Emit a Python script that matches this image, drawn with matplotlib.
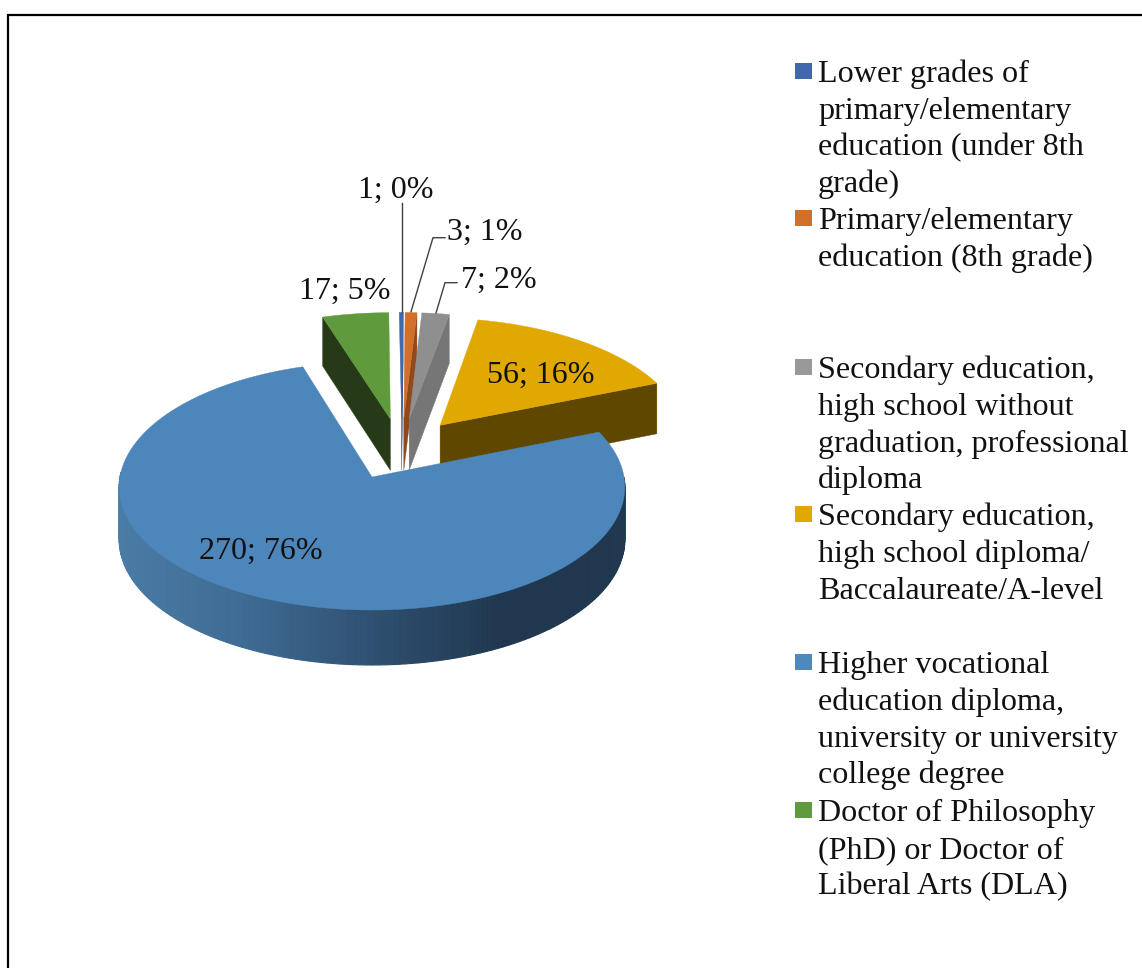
import numpy as np
import matplotlib
matplotlib.use("Agg")
import matplotlib.pyplot as plt
from matplotlib.colors import to_rgb
from matplotlib.patches import Polygon, Rectangle

plt.rcParams["font.family"] = ["Liberation Serif"]

values = [1, 3, 7, 56, 270, 17]
top_colors = ["#3F68AE", "#D2702A", "#8F8F8F", "#E0A800", "#4C86BB", "#5F9A3D"]
side_colors = ["#26406B", "#8F4A1C", "#767676", "#5F4700", "#223D58", "#263A17"]
legend_colors = ["#3F68AE", "#D2702A", "#999999", "#E3A800", "#4E88BC", "#5F9A3D"]
legend_lines = [
    ["Lower grades of", "primary/elementary", "education (under 8th", "grade)"],
    ["Primary/elementary", "education (8th grade)"],
    ["Secondary education,", "high school without", "graduation, professional", "diploma"],
    ["Secondary education,", "high school diploma/", "Baccalaureate/A-level"],
    ["Higher vocational", "education diploma,", "university or university", "college degree"],
    ["Doctor of Philosophy", "(PhD) or Doctor of", "Liberal Arts (DLA)"],
]
legend_y = [71, 218, 367, 514, 662, 810]

# label positions (centre, px), same order as values
label_pos = [(396, 190), (485, 232), (499, 280), (541, 375), (261, 551), (345, 291)]

# blue rim shading, left to right
rim_x = [119, 250, 372, 500, 625]
rim_c = ["#4A7CA6", "#3E6A92", "#2F5071", "#20384F", "#20384F"]

EXPLODE = 0.25
fig = plt.figure(figsize=(11.42, 9.68), dpi=100)
ax = fig.add_axes([0, 0, 1, 1])
ax.set_xlim(0, 1142)
ax.set_ylim(968, 0)
ax.axis("off")


def to_px(u, v):
    # pie plane -> picture, with a bit of perspective
    u, v = np.asarray(u, float), np.asarray(v, float)
    return 372 + 252 * u * (1 - 0.08 * v), 477 - 124 * v + 9 * v**2


def depth(v):
    return 52.5 - 2.5 * np.asarray(v, float)


def rim_color(x):
    rgb = np.array([to_rgb(c) for c in rim_c])
    return [np.interp(x, rim_x, rgb[:, i]) for i in range(3)]


total = sum(values)
edges = np.cumsum([0] + values) / total * 2 * np.pi
mids = (edges[:-1] + edges[1:]) / 2
big = values.index(max(values))
u0 = -EXPLODE * np.sin(mids[big])
v0 = -EXPLODE * np.cos(mids[big])

# back to front, big slice last
order = [5, 0, 1, 2, 3, 4]
for i in order:
    a, b = edges[i], edges[i + 1]
    cu = u0 + EXPLODE * np.sin(mids[i])
    cv = v0 + EXPLODE * np.cos(mids[i])
    if i != big:
        # small nudge so the pulled out slices sit where they do in the picture
        cu += 0.006 if i == 5 else 0.013
        cv += 0.012
    t = np.linspace(a, b, 200)
    us = cu + np.sin(t)
    vs = cv + np.cos(t)

    # cut faces that look at the viewer
    for ang, visible in [(a, np.sin(a) < -1e-6), (b, np.sin(b) > 1e-6)]:
        if visible:
            pu = np.array([cu, cu + np.sin(ang)])
            pv = np.array([cv, cv + np.cos(ang)])
            x, y = to_px(pu, pv)
            d = depth(pv)
            pts = [(x[0], y[0]), (x[1], y[1]), (x[1], y[1] + d[1]), (x[0], y[0] + d[0])]
            ax.add_patch(Polygon(pts, closed=True, fc=side_colors[i], ec=side_colors[i], lw=0.3))

    # outer rim
    x, y = to_px(us, vs)
    d = depth(vs)
    for j in range(len(t) - 1):
        if np.cos(t[j]) < 0.02:
            pts = [(x[j], y[j]), (x[j + 1], y[j + 1]), (x[j + 1], y[j + 1] + d[j + 1]), (x[j], y[j] + d[j])]
            c = rim_color((x[j] + x[j + 1]) / 2)
            ax.add_patch(Polygon(pts, closed=True, fc=c, ec=c, lw=0.8))

    # top
    tx, ty = to_px(np.r_[cu, us], np.r_[cv, vs])
    ax.add_patch(Polygon(np.c_[tx, ty], closed=True, fc=top_colors[i], ec=top_colors[i], lw=0.3))

# leader lines
ax.plot([401.7, 401.7], [203, 312], color="#404040", lw=1)
ax.plot([445, 433, 411], [237.7, 237.7, 311.7], color="#404040", lw=1)
ax.plot([457, 445, 436], [282.7, 282.7, 313], color="#404040", lw=1)

for v, (lx, ly) in zip(values, label_pos):
    ax.text(lx, ly, f"{v}; {round(100 * v / total)}%", ha="center", va="center", fontsize=23, color="#111111")

# legend
for lines, c, ly in zip(legend_lines, legend_colors, legend_y):
    ax.add_patch(Rectangle((795, ly - 8), 17, 16, fc=c, ec="none"))
    for k, s in enumerate(lines):
        ax.text(818, ly + 11 + k * 36.8, s, ha="left", va="baseline", fontsize=23.1, color="#111111")

# frame, only left and top show
ax.plot([7.5, 7.5, 1142], [968, 14.5, 14.5], color="black", lw=1.6, solid_joinstyle="miter")

fig.savefig("out.png", dpi=100)
plt.close(fig)
